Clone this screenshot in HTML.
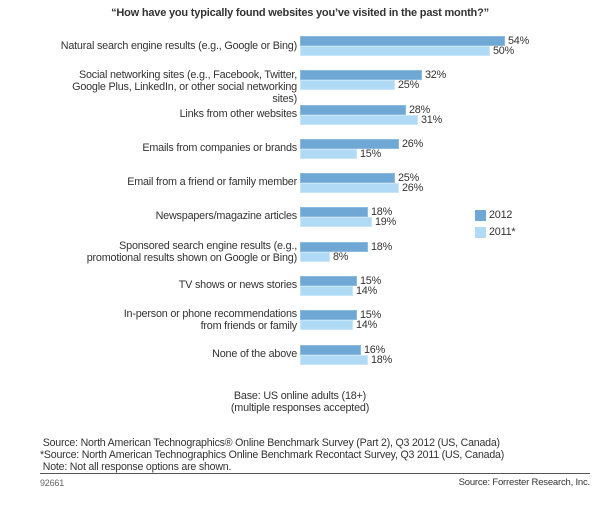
<!DOCTYPE html>
<html><head><meta charset="utf-8"><style>
body{margin:0;width:600px;height:505px;background:#fff;position:relative;font-family:"Liberation Sans",sans-serif;color:#333;overflow:hidden}
.t{position:absolute;white-space:nowrap;font-size:10.8px;line-height:12px;letter-spacing:-0.2px}
.l{right:303px;text-align:right}
.b1,.b2{position:absolute;left:300px;height:10px;box-sizing:border-box}
.b1{background:#6fa7d5;border:1px solid #8dbbe0}
.b2{background:#b0daf5;border:1px solid #c8e6f8}
</style></head><body>
<div class="t" style="left:0;width:600px;text-align:center;top:7px;font-weight:bold;font-size:11px">“How have you typically found websites you’ve visited in the past month?”</div>

<div class="t l" style="top:40px">Natural search engine results (e.g., Google or Bing)</div>
<div class="b1" style="top:36px;width:205px"></div><div class="b2" style="top:46px;width:190px"></div>
<div class="t" style="left:508px;top:35px">54%</div><div class="t" style="left:493px;top:45px">50%</div>

<div class="t l" style="top:69px">Social networking sites (e.g., Facebook, Twitter,<br>Google Plus, LinkedIn, or other social networking<br>sites)</div>
<div class="b1" style="top:70px;width:122px"></div><div class="b2" style="top:80px;width:95px"></div>
<div class="t" style="left:425px;top:69px">32%</div><div class="t" style="left:398px;top:79px">25%</div>

<div class="t l" style="top:108px">Links from other websites</div>
<div class="b1" style="top:105px;width:106px"></div><div class="b2" style="top:115px;width:118px"></div>
<div class="t" style="left:409px;top:104px">28%</div><div class="t" style="left:421px;top:114px">31%</div>

<div class="t l" style="top:142px">Emails from companies or brands</div>
<div class="b1" style="top:139px;width:99px"></div><div class="b2" style="top:149px;width:57px"></div>
<div class="t" style="left:402px;top:138px">26%</div><div class="t" style="left:360px;top:148px">15%</div>

<div class="t l" style="top:176px">Email from a friend or family member</div>
<div class="b1" style="top:173px;width:95px"></div><div class="b2" style="top:183px;width:99px"></div>
<div class="t" style="left:398px;top:172px">25%</div><div class="t" style="left:402px;top:182px">26%</div>

<div class="t l" style="top:210px">Newspapers/magazine articles</div>
<div class="b1" style="top:207px;width:68px"></div><div class="b2" style="top:217px;width:72px"></div>
<div class="t" style="left:371px;top:206px">18%</div><div class="t" style="left:375px;top:216px">19%</div>

<div class="t l" style="top:240px">Sponsored search engine results (e.g.,<br>promotional results shown on Google or Bing)</div>
<div class="b1" style="top:242px;width:68px"></div><div class="b2" style="top:252px;width:30px"></div>
<div class="t" style="left:371px;top:241px">18%</div><div class="t" style="left:333px;top:251px">8%</div>

<div class="t l" style="top:279px">TV shows or news stories</div>
<div class="b1" style="top:276px;width:57px"></div><div class="b2" style="top:286px;width:53px"></div>
<div class="t" style="left:360px;top:275px">15%</div><div class="t" style="left:356px;top:285px">14%</div>

<div class="t l" style="top:308px">In-person or phone recommendations<br>from friends or family</div>
<div class="b1" style="top:310px;width:57px"></div><div class="b2" style="top:320px;width:53px"></div>
<div class="t" style="left:360px;top:309px">15%</div><div class="t" style="left:356px;top:319px">14%</div>

<div class="t l" style="top:348px">None of the above</div>
<div class="b1" style="top:345px;width:61px"></div><div class="b2" style="top:355px;width:68px"></div>
<div class="t" style="left:364px;top:344px">16%</div><div class="t" style="left:371px;top:354px">18%</div>

<div style="position:absolute;left:475px;top:210px;width:11px;height:11px;background:#6fa7d5"></div>
<div class="t" style="left:489px;top:209px">2012</div>
<div style="position:absolute;left:475px;top:227px;width:11px;height:11px;background:#b0daf5"></div>
<div class="t" style="left:489px;top:226px">2011*</div>

<div class="t" style="left:0;width:600px;text-align:center;top:390px;line-height:12px">Base: US online adults (18+)<br>(multiple responses accepted)</div>

<div class="t" style="left:40px;top:437px;line-height:12px;font-size:10.6px">&nbsp;Source: North American Technographics® Online Benchmark Survey (Part 2), Q3 2012 (US, Canada)<br>*Source: North American Technographics Online Benchmark Recontact Survey, Q3 2011 (US, Canada)<br>&nbsp;Note: Not all response options are shown.</div>
<div style="position:absolute;left:40px;top:473px;width:550px;height:1px;background:#555"></div>
<div class="t" style="left:40px;top:477px;font-size:9px;color:#666">92661</div>
<div class="t" style="right:10px;top:477px;font-size:9.5px">Source: Forrester Research, Inc.</div>
</body></html>
